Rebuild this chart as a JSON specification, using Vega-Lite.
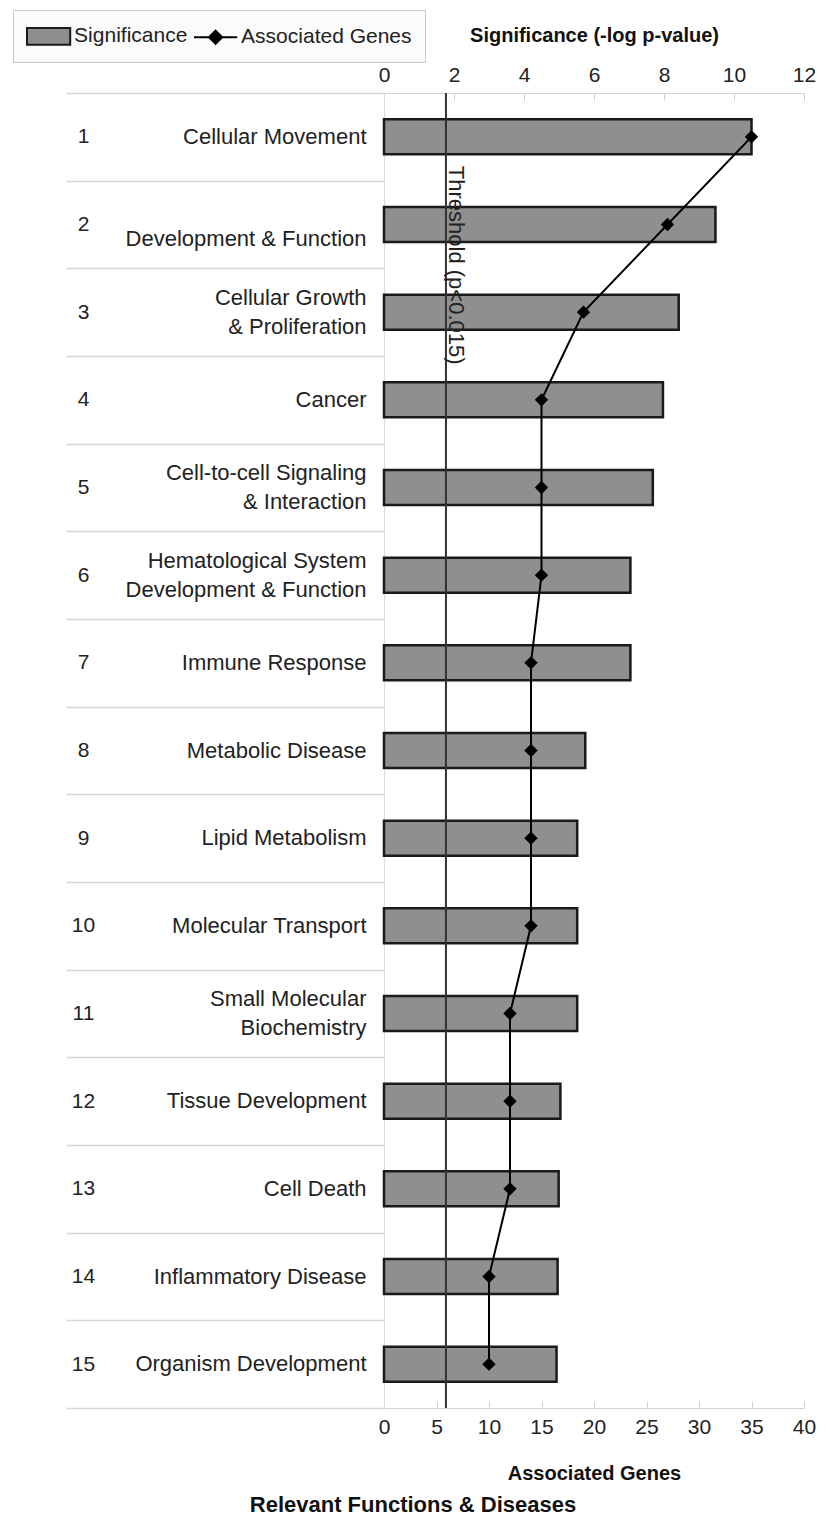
{
  "$schema": "https://vega.github.io/schema/vega-lite/v6.json",
  "width": 420,
  "height": 1315,
  "padding": {"left": 12, "top": 9, "right": 10, "bottom": 5},
  "background": "white",
  "config": {"view": {"stroke": null}, "font": "Liberation Sans"},
  "title": {"text": "Relevant Functions & Diseases", "orient": "bottom", "anchor": "middle", "frame": "group", "dx": -181, "offset": 12, "font": "Liberation Sans", "fontSize": 22, "fontWeight": "bold", "color": "#111111"},
  "datasets": {
    "rows": [
      {"rank": 1, "name": "Cellular Movement", "sig": 10.5, "genes": 35},
      {"rank": 2, "name": "\nDevelopment & Function", "sig": 9.47, "genes": 27},
      {"rank": 3, "name": "Cellular Growth\n& Proliferation", "sig": 8.42, "genes": 19},
      {"rank": 4, "name": "Cancer", "sig": 7.97, "genes": 15},
      {"rank": 5, "name": "Cell-to-cell Signaling\n& Interaction", "sig": 7.68, "genes": 15},
      {"rank": 6, "name": "Hematological System\nDevelopment & Function", "sig": 7.04, "genes": 15},
      {"rank": 7, "name": "Immune Response", "sig": 7.04, "genes": 14},
      {"rank": 8, "name": "Metabolic Disease", "sig": 5.75, "genes": 14},
      {"rank": 9, "name": "Lipid Metabolism", "sig": 5.52, "genes": 14},
      {"rank": 10, "name": "Molecular Transport", "sig": 5.52, "genes": 14},
      {"rank": 11, "name": "Small Molecular\nBiochemistry", "sig": 5.52, "genes": 12},
      {"rank": 12, "name": "Tissue Development", "sig": 5.04, "genes": 12},
      {"rank": 13, "name": "Cell Death", "sig": 4.99, "genes": 12},
      {"rank": 14, "name": "Inflammatory Disease", "sig": 4.96, "genes": 10},
      {"rank": 15, "name": "Organism Development", "sig": 4.93, "genes": 10}
    ],
    "threshold": [{"threshold": 1.77, "label": "Threshold (p<0.015)"}],
    "series": [{"series": "Significance"}, {"series": "Associated Genes"}]
  },
  "data": {"name": "rows"},
  "layer": [
    {
      "layer": [
        {
          "layer": [
            {
              "mark": {"type": "bar", "fill": "#8f8f8f", "stroke": "#1a1a1a", "strokeWidth": 2.5},
              "encoding": {
                "x": {"field": "sig", "type": "quantitative",
                  "scale": {"domain": [0, 12], "nice": false},
                  "axis": {"orient": "top", "title": "Significance (-log p-value)", "values": [0, 2, 4, 6, 8, 10, 12], "grid": false, "labelFlush": false,
                    "domainColor": "#d4d4d4", "tickColor": "#cfcfcf", "tickSize": -7, "labelPadding": 15,
                    "labelFont": "Liberation Sans", "labelFontSize": 21, "labelColor": "#222222",
                    "titleFont": "Liberation Sans", "titleFontSize": 20, "titleFontWeight": "bold", "titleColor": "#111111", "titlePadding": 19}},
                "y": {"field": "name", "type": "nominal", "sort": null,
                  "scale": {"paddingInner": 0.6, "paddingOuter": 0.3},
                  "axis": {"orient": "left", "title": null, "domain": true, "domainColor": "#dddddd", "ticks": false, "grid": false,
                    "labelPadding": 18, "labelFont": "Liberation Sans", "labelFontSize": 22, "labelColor": "#222222", "labelLimit": 0,
                    "labelBaseline": "middle", "labelOverlap": false,
                    "labelExpr": "indexof(datum.value, '\\n') >= 0 ? '' : datum.value"}}
              }
            },
            {
              "data": {"name": "threshold"},
              "mark": {"type": "rule", "color": "#333333", "strokeWidth": 2},
              "encoding": {"x": {"field": "threshold", "type": "quantitative"}}
            },
            {
              "data": {"name": "threshold"},
              "mark": {"type": "text", "angle": 90, "align": "left", "baseline": "alphabetic", "dx": 29, "dy": -3, "fontSize": 22, "font": "Liberation Sans", "color": "#222222"},
              "encoding": {
                "x": {"field": "threshold", "type": "quantitative"},
                "y": {"datum": "Cellular Movement", "type": "nominal"},
                "text": {"field": "label"}
              }
            }
          ]
        },
        {
          "layer": [
            {
              "mark": {"type": "line", "strokeWidth": 2, "color": "#000000"},
              "encoding": {
                "x": {"field": "genes", "type": "quantitative",
                  "scale": {"domain": [0, 40], "nice": false},
                  "axis": {"orient": "bottom", "title": "Associated Genes", "values": [0, 5, 10, 15, 20, 25, 30, 35, 40], "grid": false, "labelFlush": false,
                    "domainColor": "#d4d4d4", "tickColor": "#cfcfcf", "tickSize": -7, "labelPadding": 15,
                    "labelFont": "Liberation Sans", "labelFontSize": 21, "labelColor": "#222222",
                    "titleFont": "Liberation Sans", "titleFontSize": 20, "titleFontWeight": "bold", "titleColor": "#111111", "titlePadding": 26}},
                "y": {"field": "name", "type": "nominal", "sort": null}
              }
            },
            {
              "mark": {"type": "point", "shape": "diamond", "filled": true, "size": 180, "opacity": 1, "color": "#000000"},
              "encoding": {
                "x": {"field": "genes", "type": "quantitative"},
                "y": {"field": "name", "type": "nominal", "sort": null}
              }
            }
          ]
        }
      ],
      "resolve": {"scale": {"x": "independent"}}
    },
    {
      "mark": {"type": "point", "opacity": 0},
      "encoding": {
        "y": {"field": "name", "type": "nominal", "sort": null,
          "scale": {"type": "band", "paddingInner": 0.6, "paddingOuter": 0.3},
          "axis": {"orient": "left", "title": null, "domain": false, "ticks": false, "grid": false,
            "labelPadding": 18, "labelFont": "Liberation Sans", "labelFontSize": 22, "labelColor": "#222222", "labelLimit": 0,
            "labelLineHeight": 29, "labelBaseline": "middle", "labelOverlap": false, "labelOffset": -14.5,
            "labelExpr": "indexof(datum.value, '\\n') >= 0 ? split(datum.value, '\\n') : ''"}}
      }
    },
    {
      "mark": {"type": "point", "opacity": 0},
      "encoding": {
        "y": {"field": "rank", "type": "ordinal",
          "scale": {"type": "band", "paddingInner": 0, "paddingOuter": 0},
          "axis": {"orient": "left", "title": null, "domain": false, "ticks": true, "tickBand": "extent", "tickExtra": true,
            "tickSize": 318, "tickColor": "#d6d6d6", "tickWidth": 1.5, "grid": false,
            "labelPadding": -17, "labelAlign": "center", "labelBaseline": "middle",
            "labelFont": "Liberation Sans", "labelFontSize": 21, "labelColor": "#222222"}}
      }
    },
    {
      "data": {"name": "series"},
      "mark": {"type": "point", "opacity": 0, "filled": true},
      "encoding": {
        "color": {"field": "series", "type": "nominal",
          "scale": {"domain": ["Significance", "Associated Genes"], "range": ["#8f8f8f", "#000000"]},
          "legend": {"orient": "none", "legendX": -371, "legendY": -83, "direction": "horizontal", "title": null,
            "fillColor": "#fbfbfb", "strokeColor": "#c8c8c8", "padding": 13,
            "labelFont": "Liberation Sans", "labelFontSize": 21, "labelColor": "#222222", "labelLimit": 400,
            "labelOffset": 12.5, "symbolOffset": 9.6, "columnPadding": 2,
            "symbolSize": 576, "symbolStrokeWidth": 2, "symbolOpacity": 1}},
        "stroke": {"field": "series", "type": "nominal",
          "scale": {"domain": ["Significance", "Associated Genes"], "range": ["#1a1a1a", "#000000"]},
          "legend": {"orient": "none", "legendX": -371, "legendY": -83, "direction": "horizontal", "title": null,
            "fillColor": "#fbfbfb", "strokeColor": "#c8c8c8", "padding": 13,
            "labelFont": "Liberation Sans", "labelFontSize": 21, "labelColor": "#222222", "labelLimit": 400,
            "labelOffset": 12.5, "symbolOffset": 9.6, "columnPadding": 2,
            "symbolSize": 576, "symbolStrokeWidth": 2, "symbolOpacity": 1}},
        "shape": {"field": "series", "type": "nominal",
          "scale": {"domain": ["Significance", "Associated Genes"], "range": ["M-1.8,-0.7L1.8,-0.7L1.8,0.7L-1.8,0.7Z", "M-1.8,0L1.8,0M0,-0.55L0.55,0L0,0.55L-0.55,0Z"]},
          "legend": {"orient": "none", "legendX": -371, "legendY": -83, "direction": "horizontal", "title": null,
            "fillColor": "#fbfbfb", "strokeColor": "#c8c8c8", "padding": 13,
            "labelFont": "Liberation Sans", "labelFontSize": 21, "labelColor": "#222222", "labelLimit": 400,
            "labelOffset": 12.5, "symbolOffset": 9.6, "columnPadding": 2,
            "symbolSize": 576, "symbolStrokeWidth": 2, "symbolOpacity": 1}}
      }
    }
  ],
  "resolve": {"scale": {"y": "independent", "x": "independent"}}
}
